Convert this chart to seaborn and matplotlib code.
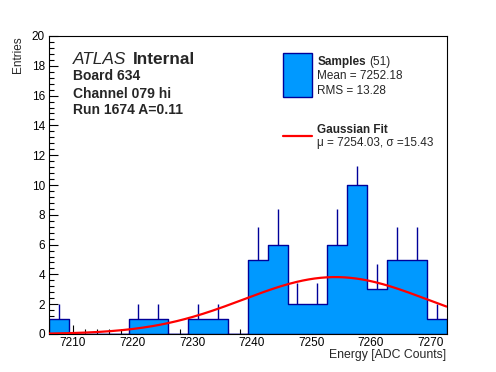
import numpy as np
import pandas as pd
import matplotlib
matplotlib.use("Agg")
import matplotlib.pyplot as plt
from matplotlib.ticker import MultipleLocator
from matplotlib.patches import Rectangle
from matplotlib.lines import Line2D
import seaborn as sns

# ============================================
# Data
# ============================================
x_start = 7206.0
bin_width = 10 / 3
counts = [1, 0, 0, 0, 1, 1, 0, 1, 1, 0, 5, 6, 2, 2, 6, 10, 3, 5, 5, 1]
err_up = [1, 0, 0, 0, 1, 1, 0, 1, 1, 0, 2.2, 2.4, 1.4, 1.4, 2.4, 1.3, 1.7, 2.2, 2.2, 1.0]

fit_amp = 3.82
fit_mu = 7254.03
fit_sigma = 15.43

edges = x_start + bin_width * np.arange(len(counts) + 1)
centers = (edges[:-1] + edges[1:]) / 2
hist = pd.DataFrame({"energy": centers, "entries": counts, "err": err_up})

fit_x = np.linspace(edges[0], edges[-1], 200)
fit_y = fit_amp * np.exp(-0.5 * ((fit_x - fit_mu) / fit_sigma) ** 2)

# ============================================
# Style
# ============================================
sns.set_style("ticks")
plt.rcParams["font.family"] = ["Liberation Sans", "DejaVu Sans"]

fill_col = "#0099ff"
edge_col = "#000099"

W, H = 496, 372
fig = plt.figure(figsize=(W / 100, H / 100), dpi=100)
ax = fig.add_axes([49 / W, 1 - 334 / H, (446.5 - 49) / W, (334 - 36) / H])

sns.histplot(
    data=hist, x="energy", weights="entries", bins=list(edges),
    element="step", fill=True, color=fill_col, edgecolor=edge_col,
    alpha=1, linewidth=1.0, ax=ax
)

nz = hist[hist["err"] > 0]
ax.vlines(nz["energy"], nz["entries"], nz["entries"] + nz["err"],
          color=edge_col, linewidth=1.0, zorder=3)

sns.lineplot(x=fit_x, y=fit_y, color="red", linewidth=1.6, ax=ax, zorder=4)

ax.set_xlim(edges[0], edges[-1])
ax.set_ylim(0, 20)
ax.xaxis.set_major_locator(MultipleLocator(10))
ax.xaxis.set_minor_locator(MultipleLocator(2))
ax.yaxis.set_major_locator(MultipleLocator(2))
ax.yaxis.set_minor_locator(MultipleLocator(0.4))
ax.tick_params(which="both", direction="in", top=False, right=False,
               colors="black", labelsize=8.5)
ax.tick_params(which="major", length=6.5, width=0.8)
ax.tick_params(which="minor", length=3.3, width=0.8)
ax.tick_params(axis="x", pad=2.5)
ax.tick_params(axis="y", pad=3)
for s in ax.spines.values():
    s.set_visible(True)
    s.set_linewidth(0.8)
    s.set_color("black")
ax.set_xlabel("")
ax.set_ylabel("")

fig.text(446 / W, 1 - 358 / H, "Energy [ADC Counts]", ha="right", va="baseline", fontsize=8.8)
fig.text(24 / W, 1 - 36 / H, "Entries", rotation=90, ha="right", va="top", fontsize=8.5)

# ============================================
# Labels top left
# ============================================
fig.text(72.7 / W, 1 - 64.3 / H, "ATLAS", style="italic", fontsize=12.4, va="baseline")
fig.text(133 / W, 1 - 64.3 / H, "Internal", weight="bold", fontsize=12.4, va="baseline")
fig.text(72.7 / W, 1 - 80.5 / H, "Board 634", weight="bold", fontsize=10, va="baseline")
fig.text(72.7 / W, 1 - 97.5 / H, "Channel 079 hi", weight="bold", fontsize=10, va="baseline")
fig.text(72.7 / W, 1 - 114.5 / H, "Run 1674 A=0.11", weight="bold", fontsize=10, va="baseline")

# ============================================
# Legend drawn by hand
# ============================================
fig.patches.append(Rectangle((283.3 / W, 1 - 96.7 / H), 28.4 / W, 43.4 / H,
                             transform=fig.transFigure, facecolor=fill_col,
                             edgecolor=edge_col, linewidth=1.0))
fig.lines.append(Line2D([283.3 / W, 311.7 / W], [1 - 136 / H, 1 - 136 / H],
                        transform=fig.transFigure, color="red", linewidth=1.6))
fig.text(317.3 / W, 1 - 65 / H, "Samples", weight="bold", fontsize=8.5, va="baseline")
fig.text(369.5 / W, 1 - 65 / H, "(51)", fontsize=8.5, va="baseline")
fig.text(317.3 / W, 1 - 79.3 / H, "Mean = 7252.18", fontsize=8.5, va="baseline")
fig.text(317.3 / W, 1 - 94 / H, "RMS = 13.28", fontsize=8.5, va="baseline")
fig.text(317.3 / W, 1 - 132.7 / H, "Gaussian Fit", weight="bold", fontsize=8.5, va="baseline")
fig.text(317.3 / W, 1 - 146 / H, "\u03bc = 7254.03, \u03c3 =15.43", fontsize=8.5, va="baseline")

fig.savefig("out.png", dpi=100)
